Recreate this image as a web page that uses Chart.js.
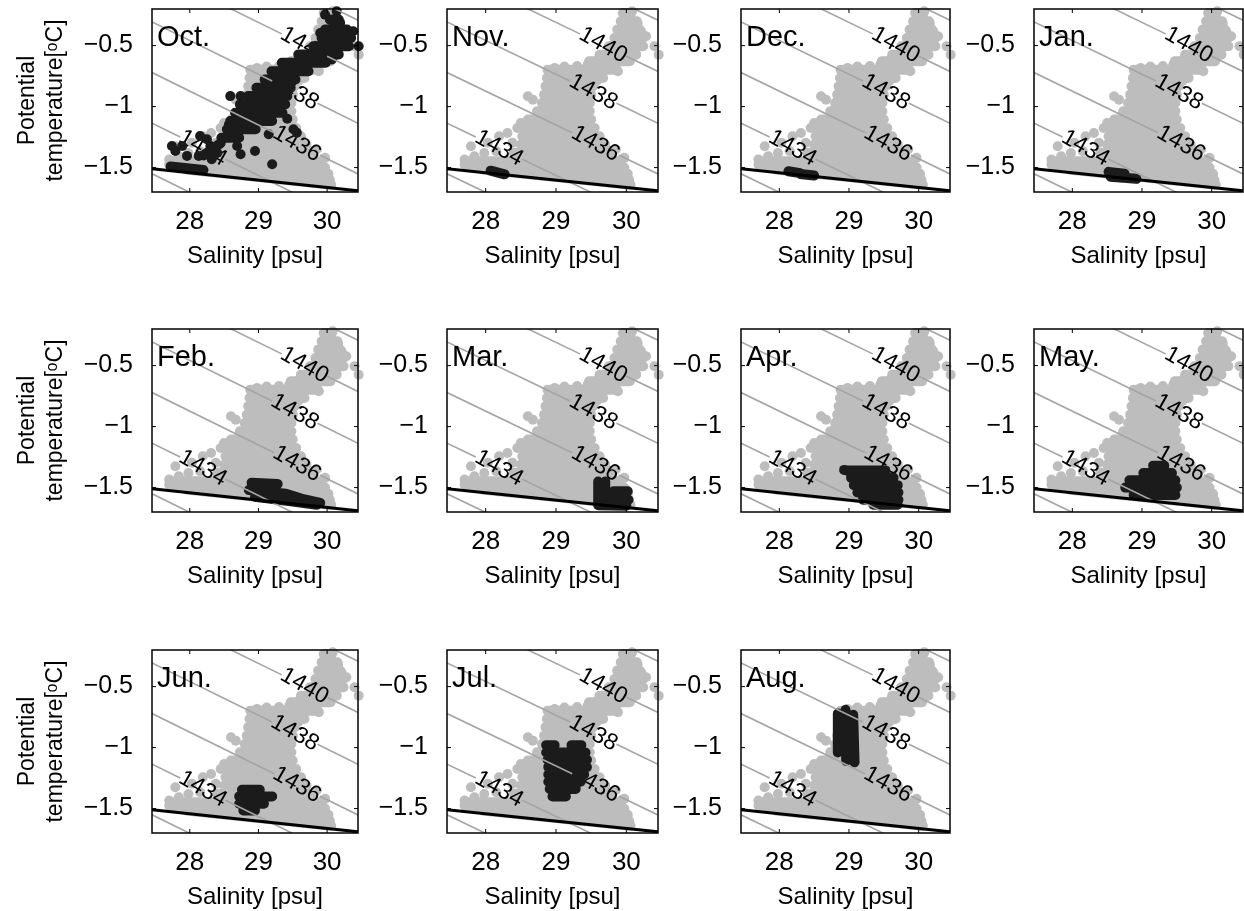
<!DOCTYPE html>
<html>
<head>
<meta charset="utf-8">
<script src="https://cdn.jsdelivr.net/npm/chart.js@4.4.1/dist/chart.umd.min.js"></script>
<style>
  html, body { margin: 0; padding: 0; background: #ffffff; }
  #figure { position: relative; width: 1244px; height: 911px; overflow: hidden; background: #ffffff; }
  #figure canvas { position: absolute; }
</style>
</head>
<body>
<div id="figure"></div>
<script>
// ---- axes ----
var monthLabels = ["Oct.", "Nov.", "Dec.", "Jan.", "Feb.", "Mar.", "Apr.", "May.", "Jun.", "Jul.", "Aug."];
var salinityTicks = [28, 29, 30];
var temperatureTicks = [-1.5, -1, -0.5];
var salinityRange = [27.45, 30.45];
var temperatureRange = [-1.7, -0.2];
var xTitle = "Salinity [psu]";
var yTitle = ["Potential", "temperature[\u1D52C]"];

// ---- sound speed contours [S, T]; null = gap where the label sits ----
var contourLevels = [1432, 1434, 1436, 1438, 1440, 1442];
var contourLines = [
    [[27.45, -1.551], [30.45, -2.380]],
    [[27.45, -1.136], [27.86, -1.249], null, [28.52, -1.432], [30.45, -1.967]],
    [[27.45, -0.721], [29.23, -1.214], null, [29.89, -1.397], [30.45, -1.552]],
    [[27.45, -0.306], [29.20, -0.790], null, [29.86, -0.973], [30.45, -1.137]],
    [[27.45, 0.119], [29.34, -0.404], null, [30.00, -0.587], [30.45, -0.712]],
    [[27.45, 0.539], [30.45, -0.292]]
];
var contourLabelPos = [null, [28.19, -1.341], [29.56, -1.305], [29.53, -0.882], [29.67, -0.496], null];

// ---- freezing line ----
var freezingLine = [[27.45, -1.51], [30.45, -1.69]];

// ---- all profiles (grey): rows [T, S left, S right], extra strokes and single dots ----
var cloudRows = [
    [-0.233, 29.97, 30.07], [-0.301, 29.92, 30.15], [-0.369, 29.87, 30.19],
    [-0.438, 29.83, 30.24], [-0.506, 29.75, 30.24], [-0.574, 29.62, 30.14],
    [-0.629, 29.47, 30.05], [-0.697, 28.92, 29.86], [-0.765, 28.87, 29.67],
    [-0.833, 28.85, 29.53], [-0.902, 28.83, 29.50], [-0.970, 28.80, 29.48],
    [-1.038, 28.73, 29.48], [-1.106, 28.60, 29.50], [-1.175, 28.54, 29.55],
    [-1.243, 28.52, 29.62], [-1.311, 28.50, 29.70], [-1.379, 28.40, 29.80],
    [-1.448, 27.74, 29.92], [-1.500, 28.00, 29.97], [-1.550, 28.90, 30.02],
    [-1.600, 29.60, 30.04]
];
var cloudStrokes = [
    [[27.70, -1.475], [29.00, -1.545], [30.04, -1.605]],
    [[27.95, -1.515], [29.00, -1.578], [30.06, -1.640]]
];
var cloudDots = [
    [30.40, -0.506], [30.46, -0.574], [28.60, -0.915], [28.67, -0.943], [27.79, -1.325],
    [27.84, -1.407], [28.03, -1.297], [28.19, -1.243], [28.31, -1.216], [28.38, -1.297],
    [28.45, -1.175], [28.50, -1.134], [27.98, -1.380], [28.15, -1.366], [27.70, -1.434],
    [29.95, -0.233], [30.08, -0.219], [30.16, -0.320], [30.21, -0.383], [30.28, -0.424],
    [28.88, -0.697], [28.98, -0.683], [29.12, -0.672], [29.30, -0.668], [29.45, -0.655],
    [29.60, -0.610], [29.88, -0.710], [29.58, -0.790], [29.85, -1.350], [29.97, -1.420]
];

// ---- monthly profiles (black) ----
var octRows = [
    [-0.287, 30.04, 30.17], [-0.369, 29.97, 30.29], [-0.437, 29.92, 30.35],
    [-0.505, 29.80, 30.32], [-0.573, 29.58, 30.17], [-0.641, 29.34, 29.98],
    [-0.710, 29.19, 29.73], [-0.778, 29.09, 29.54], [-0.846, 28.97, 29.47],
    [-0.914, 28.85, 29.42], [-0.982, 28.73, 29.39], [-1.050, 28.66, 29.35],
    [-1.118, 28.59, 29.20], [-1.186, 28.54, 28.96], [-1.255, 28.46, 28.72]
];
var octStrokes = [
    [[27.72, -1.490], [28.20, -1.520]],
    [[28.20, -1.400], [28.45, -1.300]]
];
var octDots = [
    [27.74, -1.323], [27.79, -1.364], [27.89, -1.323], [27.96, -1.404], [28.13, -1.404],
    [28.15, -1.241], [28.25, -1.268], [28.30, -1.323], [28.32, -1.432], [28.47, -1.268],
    [28.57, -1.146], [28.61, -1.200], [28.69, -1.323], [28.74, -1.391], [28.59, -0.914],
    [28.74, -0.914], [28.95, -1.364], [29.20, -1.473], [29.15, -1.227], [29.51, -1.186],
    [29.56, -1.214], [30.14, -0.219], [30.19, -0.314], [29.97, -0.246], [30.38, -0.383],
    [30.46, -0.505], [30.07, -0.614], [29.90, -0.396], [29.42, -1.100], [28.40, -1.380]
];
var novStrokes = [[[28.07, -1.525], [28.27, -1.555]]];
var decStrokes = [[[28.13, -1.530], [28.30, -1.545]], [[28.30, -1.552], [28.50, -1.565]]];
var janStrokes = [[[28.52, -1.535], [28.75, -1.550]], [[28.55, -1.575], [28.92, -1.592]]];
var febStrokes = [
    [[28.90, -1.46], [29.28, -1.47]],
    [[28.86, -1.52], [29.40, -1.55], [29.62, -1.59], [29.90, -1.625]],
    [[28.95, -1.575], [29.50, -1.615], [29.85, -1.64]]
];
var marStrokes = [
    [[29.60, -1.45], [29.60, -1.63]],
    [[29.70, -1.45], [29.70, -1.63]],
    [[29.82, -1.53], [30.02, -1.53]],
    [[29.78, -1.59], [30.03, -1.60]],
    [[29.60, -1.645], [30.00, -1.648]]
];
var aprRows = [[-1.36, 28.96, 29.52], [-1.42, 29.03, 29.64], [-1.48, 29.07, 29.70], [-1.54, 29.12, 29.71], [-1.60, 29.20, 29.71], [-1.64, 29.35, 29.70]];
var aprDots = [[28.93, -1.355]];
var mayRows = [[-1.32, 29.16, 29.32], [-1.38, 29.02, 29.43], [-1.44, 28.82, 29.48], [-1.50, 28.76, 29.50], [-1.56, 28.88, 29.48]];
var junRows = [[-1.345, 28.76, 29.02], [-1.40, 28.72, 29.20], [-1.46, 28.72, 29.08], [-1.515, 28.78, 28.95]];
var julRows = [
    [-0.98, 28.86, 28.98], [-0.98, 29.22, 29.36], [-1.04, 28.86, 29.42], [-1.10, 28.88, 29.44],
    [-1.16, 28.89, 29.44], [-1.22, 28.89, 29.40], [-1.28, 28.89, 29.35], [-1.34, 28.91, 29.28],
    [-1.40, 28.95, 29.14]
];
var augStrokes = [
    [[28.84, -0.72], [28.84, -1.04]],
    [[28.95, -0.69], [28.96, -1.11]],
    [[29.06, -0.73], [29.08, -1.12]]
];

// ---- layout of the 11 panels (plot box in page pixels) ----
var colLeft = [152, 447, 741, 1034];
var colWidth = [206, 211, 209, 209];
var rowTop = [9, 329, 650];
var panelHeight = 183;

function rowsToStrokes(rows) {
    return rows.map(function (r) { return [[r[1], r[0]], [r[2], r[0]]]; });
}
var monthStrokes = [
    rowsToStrokes(octRows).concat(octStrokes), novStrokes, decStrokes, janStrokes, febStrokes, marStrokes,
    rowsToStrokes(aprRows), rowsToStrokes(mayRows), rowsToStrokes(junRows),
    rowsToStrokes(julRows), augStrokes
];
var monthDots = [octDots, [], [], [], [], [], aprDots, [], [], [], []];

// polylines -> one dataset, broken by null points
function toLineData(lines) {
    var out = [];
    lines.forEach(function (line, i) {
        if (i > 0) out.push({x: null, y: null});
        line.forEach(function (p) {
            out.push(p ? {x: p[0], y: p[1]} : {x: null, y: null});
        });
    });
    return out;
}
function toPoints(list) {
    return list.map(function (p) { return {x: p[0], y: p[1]}; });
}
function formatTick(v) {
    return String(v).replace("-", "\u2212");
}

var FONT = "'Liberation Sans', Arial, sans-serif";
Chart.defaults.font.family = FONT;
Chart.defaults.color = "#000000";

var GREY = "#bdbdbd";
var BLACK = "#1b1b1b";

// labels on contours, drawn over the grey cloud but under the monthly points
var contourLabelPlugin = {
    id: "contourLabels",
    afterDatasetDraw: function (chart, args) {
        if (args.index !== 4) return;
        var ctx = chart.ctx, xs = chart.scales.x, ys = chart.scales.y;
        ctx.save();
        ctx.font = "23px " + FONT;
        ctx.fillStyle = "#000000";
        ctx.textAlign = "center";
        ctx.textBaseline = "middle";
        contourLevels.forEach(function (level, k) {
            var pos = contourLabelPos[k];
            if (!pos) return;
            var line = contourLines[k];
            var a = line[0], b = line[line.length - 1];
            var ang = Math.atan2(ys.getPixelForValue(b[1]) - ys.getPixelForValue(a[1]),
                                 xs.getPixelForValue(b[0]) - xs.getPixelForValue(a[0]));
            ctx.save();
            ctx.translate(xs.getPixelForValue(pos[0]), ys.getPixelForValue(pos[1]));
            ctx.rotate(ang + 0.06);
            ctx.fillText(String(level), 0, 0);
            ctx.restore();
        });
        ctx.restore();
    }
};

// box, inward tick marks and month name
var framePlugin = {
    id: "frame",
    afterDraw: function (chart) {
        var ctx = chart.ctx, area = chart.chartArea, xs = chart.scales.x, ys = chart.scales.y;
        ctx.save();
        ctx.strokeStyle = "#000000";
        ctx.lineWidth = 1.5;
        ctx.strokeRect(area.left, area.top, area.right - area.left, area.bottom - area.top);
        ctx.lineWidth = 1;
        ctx.beginPath();
        salinityTicks.forEach(function (v) {
            var px = xs.getPixelForValue(v);
            ctx.moveTo(px, area.bottom); ctx.lineTo(px, area.bottom - 4);
            ctx.moveTo(px, area.top); ctx.lineTo(px, area.top + 4);
        });
        temperatureTicks.forEach(function (v) {
            var py = ys.getPixelForValue(v);
            ctx.moveTo(area.left, py); ctx.lineTo(area.left + 4, py);
            ctx.moveTo(area.right, py); ctx.lineTo(area.right - 4, py);
        });
        ctx.stroke();
        ctx.font = "29px " + FONT;
        ctx.fillStyle = "#000000";
        ctx.textAlign = "left";
        ctx.textBaseline = "alphabetic";
        ctx.fillText(chart.options.plugins.frame.month, area.left + 5, area.top + 37);
        ctx.restore();
    }
};

function makePanel(i) {
    var col = i % 4, row = Math.floor(i / 4);
    var w = colWidth[col];
    var cw = w + 150 + 14, ch = panelHeight + 9 + 92;
    var canvas = document.createElement("canvas");
    canvas.width = cw;
    canvas.height = ch;
    canvas.style.left = (colLeft[col] - 150) + "px";
    canvas.style.top = (rowTop[row] - 9) + "px";
    canvas.style.width = cw + "px";
    canvas.style.height = ch + "px";
    document.getElementById("figure").appendChild(canvas);

    new Chart(canvas, {
        type: "scatter",
        data: {
            datasets: [
                {
                    label: "Freezing point",
                    data: toLineData([freezingLine]),
                    showLine: true, borderColor: "#000000", borderWidth: 3,
                    pointRadius: 0, order: 0
                },
                {
                    label: "Sound speed",
                    data: toLineData(contourLines),
                    showLine: true, borderColor: "#a4a4a4", borderWidth: 1.6,
                    pointRadius: 0, order: 1
                },
                {
                    label: monthLabels[i] + " (dense)",
                    data: toLineData(monthStrokes[i]),
                    showLine: true, borderColor: BLACK, borderWidth: 10,
                    borderCapStyle: "round", borderJoinStyle: "round",
                    pointRadius: 0, order: 2, clip: false
                },
                {
                    label: monthLabels[i],
                    data: toPoints(monthDots[i]),
                    pointRadius: 5, pointBackgroundColor: BLACK, pointBorderWidth: 0,
                    order: 3, clip: false
                },
                {
                    label: "All (dense)",
                    data: toLineData(rowsToStrokes(cloudRows).concat(cloudStrokes)),
                    showLine: true, borderColor: GREY, borderWidth: 10,
                    borderCapStyle: "round", borderJoinStyle: "round",
                    pointRadius: 0, order: 4, clip: false
                },
                {
                    label: "All",
                    data: toPoints(cloudDots),
                    pointRadius: 5, pointBackgroundColor: GREY, pointBorderWidth: 0,
                    order: 5, clip: false
                }
            ]
        },
        options: {
            responsive: false,
            animation: false,
            devicePixelRatio: 1,
            events: [],
            layout: {padding: {left: 0, top: 9, right: 14, bottom: 0}},
            plugins: {
                legend: {display: false},
                tooltip: {enabled: false},
                frame: {month: monthLabels[i]}
            },
            scales: {
                x: {
                    type: "linear",
                    min: salinityRange[0],
                    max: salinityRange[1],
                    afterBuildTicks: function (s) {
                        s.ticks = salinityTicks.map(function (v) { return {value: v}; });
                    },
                    afterFit: function (s) {
                        s.height = 92;
                        s.paddingLeft = 0;
                        s.paddingRight = 0;
                    },
                    grid: {display: false, drawTicks: false},
                    border: {display: false},
                    ticks: {
                        font: {size: 26}, color: "#000000", padding: 14,
                        maxRotation: 0, autoSkip: false,
                        callback: function (v) { return formatTick(v); }
                    },
                    title: {
                        display: true, text: xTitle, color: "#000000",
                        font: {size: 24}, padding: {top: 0, bottom: 13}
                    }
                },
                y: {
                    type: "linear",
                    min: temperatureRange[0],
                    max: temperatureRange[1],
                    afterBuildTicks: function (s) {
                        s.ticks = temperatureTicks.map(function (v) { return {value: v}; });
                    },
                    afterFit: function (s) {
                        s.width = 150;
                        s.paddingTop = 0;
                        s.paddingBottom = 0;
                    },
                    grid: {display: false, drawTicks: false},
                    border: {display: false},
                    ticks: {
                        font: {size: 25}, color: "#000000", padding: 19,
                        autoSkip: false,
                        callback: function (v) { return formatTick(v); }
                    },
                    title: {
                        display: col === 0, text: yTitle, color: "#000000",
                        font: {size: 23, lineHeight: 1.2}, padding: {top: 12, bottom: 0}
                    }
                }
            }
        },
        plugins: [contourLabelPlugin, framePlugin]
    });
}

for (var i = 0; i < monthLabels.length; i++) {
    makePanel(i);
}
</script>
</body>
</html>
